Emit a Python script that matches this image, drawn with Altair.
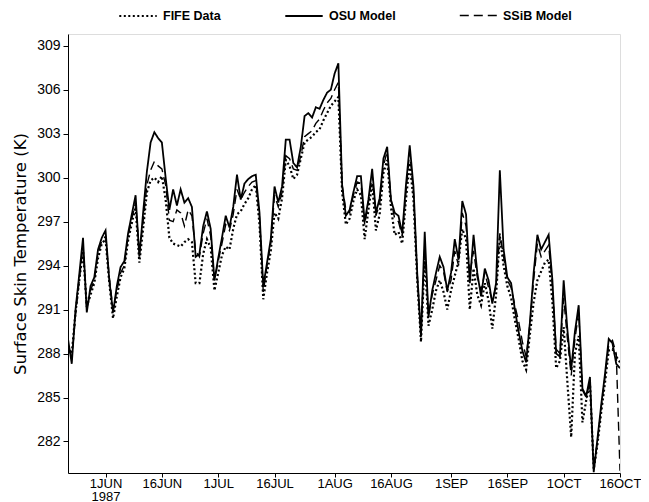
import altair as alt
import pandas as pd

# Daily surface skin temperature (K), 22 May - 16 Oct 1987
start_date = "1987-05-22"

osu_model = [
    289.0, 287.3, 291.0, 293.4, 295.9, 290.8, 292.6, 293.2, 295.1, 295.9,
    296.4, 293.0, 290.8, 292.6, 293.9, 294.3, 296.2, 297.5, 298.8, 294.6,
    297.6, 300.4, 302.4, 303.1, 302.7, 302.4, 300.0, 297.8, 299.2, 298.1,
    299.2, 298.3, 298.6, 298.0, 294.6, 294.8, 296.7, 297.7, 296.5, 293.0,
    294.5, 295.9, 297.4, 296.6, 298.0, 300.2, 298.5, 299.6, 299.9, 300.1,
    300.2, 297.6, 292.6, 294.2, 295.8, 299.4, 298.3, 299.4, 302.6, 302.6,
    301.0, 300.7, 302.1, 304.2, 304.4, 304.1, 304.8, 304.7, 305.3, 305.8,
    306.0, 307.1, 307.8, 299.5, 297.4, 297.8, 299.0, 300.1, 300.1, 297.0,
    298.5, 300.6, 297.6, 298.6, 301.3, 302.1, 298.5, 297.6, 297.4, 296.2,
    299.5, 302.2, 299.4, 293.5, 289.2, 296.3, 290.5, 292.3, 293.5, 294.6,
    293.9, 292.3, 293.5, 295.8, 294.4, 298.4, 297.5, 292.8, 296.1, 293.5,
    291.9, 293.8, 293.0, 291.4, 292.8, 300.5, 295.1, 293.2, 292.8, 291.0,
    289.5, 288.2, 287.4, 290.1, 293.5, 296.1, 295.1, 295.6, 296.1, 293.0,
    288.0, 287.8, 293.0, 289.6, 286.9, 289.5, 291.3, 285.6, 285.1, 286.4,
    279.9, 282.2, 284.5, 286.6, 289.0, 288.7, 287.3, 287.0,
]

ssib_model = [
    288.6, 287.6, 290.6, 293.0, 295.3, 291.0, 292.3, 293.0, 294.8, 295.7,
    296.0, 293.2, 291.0, 292.3, 293.5, 294.0, 296.0, 297.2, 298.3, 294.8,
    297.0, 299.5, 300.5, 301.1, 300.8, 300.6, 299.5, 297.1, 297.0, 297.8,
    297.6, 296.7, 297.8, 297.4, 295.0, 294.6, 296.2, 297.2, 296.0, 293.0,
    294.3, 295.5, 296.8, 296.4, 297.5, 299.2, 298.5, 299.0, 299.4, 299.7,
    299.8, 297.3, 292.2, 294.0, 295.5, 298.8, 298.0, 299.0, 301.5, 301.3,
    300.6, 300.5, 301.5, 302.8, 303.0, 303.2, 303.7, 304.0, 304.6, 305.1,
    305.4, 306.0, 306.5, 299.5, 297.8, 297.6, 298.8, 299.7, 299.6, 296.8,
    298.3, 300.2, 297.4, 298.2, 300.8, 301.8, 298.5, 297.2, 297.0, 296.0,
    299.0, 301.8, 299.0, 293.3, 289.2, 295.3, 290.6, 292.0, 293.0, 294.0,
    293.6, 292.2, 293.0, 295.0, 294.0, 297.6, 296.7, 293.4, 295.0, 293.2,
    292.3, 293.5, 292.5, 291.6, 292.6, 296.2, 294.6, 293.0, 292.5, 291.3,
    290.2, 288.8, 287.8, 290.0, 293.0, 295.5, 294.6, 295.0, 295.4, 292.6,
    288.3, 288.0, 291.8, 289.0, 286.5, 289.0, 290.8, 285.5, 285.0, 286.1,
    280.3, 282.0, 284.3, 286.4, 288.6, 288.9, 288.0, 280.0,
]

fife_data = [
    288.5, 288.0, 290.8, 293.0, 295.0, 291.2, 292.0, 292.8, 294.5, 295.5,
    295.8, 292.8, 290.4, 291.9, 293.2, 293.8, 295.7, 296.9, 298.0, 294.2,
    296.5, 299.0, 299.8, 300.0, 299.7, 300.1, 298.5, 295.9, 295.5, 295.4,
    295.3, 295.6, 295.8, 295.6, 292.8, 292.8, 294.8, 295.8, 295.2, 292.3,
    293.5, 294.7, 295.3, 295.1, 296.5, 297.5, 297.7, 298.2, 298.6, 299.2,
    299.5, 296.8, 291.7, 293.5, 295.0, 297.6, 297.2, 298.6, 301.2, 300.8,
    299.9, 300.2, 301.3, 302.4, 302.6, 302.8, 303.1, 303.3, 303.9, 304.4,
    304.9, 305.2, 305.5, 299.0, 296.8, 297.2, 298.4, 299.2, 298.8, 295.8,
    297.8, 299.6, 296.4, 297.5, 300.3, 301.2, 298.0, 296.1, 296.3, 295.5,
    298.5, 301.0, 298.5, 293.0, 288.8, 294.5, 289.9, 291.0, 292.3, 293.0,
    292.2, 291.0, 292.3, 293.3, 294.3, 296.5, 295.8, 291.0, 293.8, 292.0,
    291.3, 292.8, 291.6, 289.7, 292.0, 296.0, 294.0, 292.6, 291.8, 290.3,
    289.0, 287.5, 286.9, 289.3, 291.5, 293.0, 293.6, 294.2, 294.4, 291.5,
    287.0, 287.5, 289.8, 286.0, 282.3, 288.0, 289.2, 283.3, 284.8, 286.0,
    280.1, 281.8, 284.0, 286.0, 288.2, 288.3, 287.8, 287.4,
]

series_names = ["FIFE Data", "OSU Model", "SSiB Model"]
series_dash = [[2, 2.5], [1, 0], [9, 5]]
series_width = [2.2, 1.4, 1.4]

y_ticks = [282, 285, 288, 291, 294, 297, 300, 303, 306, 309]
x_tick_days = [(6, 1), (6, 16), (7, 1), (7, 16), (8, 1), (8, 16),
               (9, 1), (9, 16), (10, 1), (10, 16)]

dates = pd.date_range(start_date, periods=len(osu_model), freq="D").strftime("%Y-%m-%d")
frames = []
for name, values in zip(series_names, [fife_data, osu_model, ssib_model]):
    frames.append(pd.DataFrame({"date": dates, "temp": values, "series": name}))
data = pd.concat(frames, ignore_index=True)

font = "Liberation Sans"
label_expr = (
    "utcmonth(datum.value) == 5 && utcdate(datum.value) == 1 ? ['1JUN', '1987'] : "
    "upper(utcFormat(datum.value, '%-d%b'))"
)

chart = (
    alt.Chart(data)
    .mark_line(color="black", clip=True)
    .encode(
        x=alt.X(
            "date:T",
            title=None,
            scale=alt.Scale(
                type="utc",
                domain=[
                    alt.DateTime(year=1987, month=5, date=22, utc=True),
                    alt.DateTime(year=1987, month=10, date=16, utc=True),
                ],
            ),
            axis=alt.Axis(
                values=[alt.DateTime(year=1987, month=m, date=d, utc=True) for m, d in x_tick_days],
                labelExpr=label_expr,
                grid=False,
                tickSize=4,
                tickColor="black",
                domainColor="black",
                labelColor="black",
                labelFont=font,
                labelFontSize=13,
                labelPadding=0,
                labelLineHeight=13,
                labelOverlap=False,
                labelFlush=False,
            ),
        ),
        y=alt.Y(
            "temp:Q",
            title="Surface Skin Temperature (K)",
            scale=alt.Scale(domain=[279.85, 309.8], nice=False, zero=False),
            axis=alt.Axis(
                values=y_ticks,
                grid=False,
                tickSize=5,
                tickColor="black",
                domainColor="black",
                labelColor="black",
                labelFont=font,
                labelFontSize=14,
                labelPadding=3,
                labelFlush=False,
                titleFont="DejaVu Sans",
                titleFontSize=16.5,
                titleFontWeight="normal",
                titleColor="black",
                titlePadding=8,
            ),
        ),
        strokeDash=alt.StrokeDash(
            "series:N",
            scale=alt.Scale(domain=series_names, range=series_dash),
            legend=alt.Legend(
                title=None,
                orient="none",
                legendX=50,
                legendY=-38,
                direction="horizontal",
                symbolType="stroke",
                symbolSize=1400,
                symbolStrokeColor="black",
                symbolStrokeWidth=1.6,
                labelFont=font,
                labelFontSize=12.5,
                labelFontWeight="bold",
                labelColor="black",
                labelOffset=5,
                columnPadding=60,
                gridAlign="none",
            ),
        ),
        strokeWidth=alt.StrokeWidth(
            "series:N",
            scale=alt.Scale(domain=series_names, range=series_width),
            legend=None,
        ),
        detail="series:N",
    )
    .properties(
        width=552,
        height=439,
        autosize=alt.AutoSizeParams(type="none"),
        padding={"left": 60, "top": 26, "right": 21, "bottom": 30},
    )
    .configure_view(stroke="black", strokeWidth=1.5)
    .configure(background="white")
)

chart.save("out.html", embed_options={"renderer": "svg", "actions": False})
